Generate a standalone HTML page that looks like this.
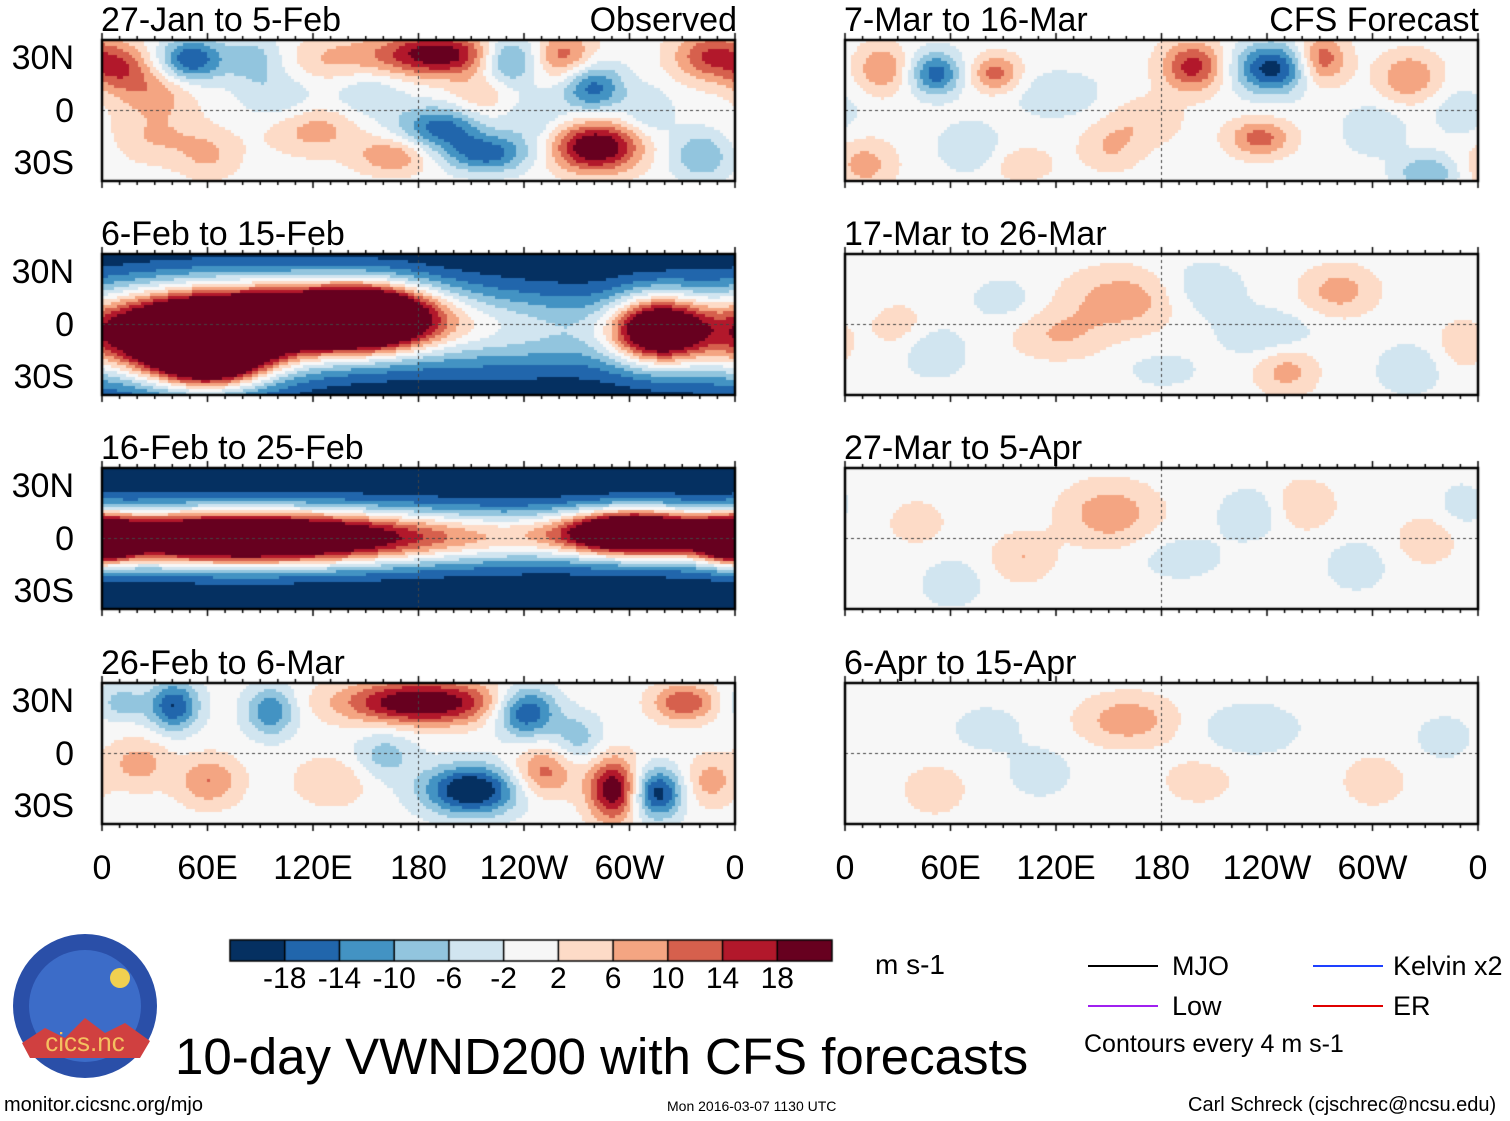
<!DOCTYPE html>
<html><head><meta charset="utf-8">
<style>
body{margin:0;background:#fff;width:1510px;height:1121px;overflow:hidden;position:relative;font-family:"Liberation Sans",sans-serif;color:#000}
.t{position:absolute;white-space:nowrap;line-height:1}
canvas{position:absolute;left:0;top:0}
</style></head><body>
<canvas id="cv" width="1510" height="1121"></canvas>
<div id="labels"></div>
<div class="t" style="left:875px;top:951px;font-size:28px">m s-1</div>
<div class="t" style="left:175px;top:1031px;font-size:51px">10-day VWND200 with CFS forecasts</div>
<div class="t" style="left:4px;top:1095px;font-size:20px">monitor.cicsnc.org/mjo</div>
<div class="t" style="left:667px;top:1099px;font-size:14px">Mon 2016-03-07 1130 UTC</div>
<div class="t" style="left:1188px;top:1095px;font-size:20px">Carl Schreck (cjschrec@ncsu.edu)</div>
<div>
<div style="position:absolute;left:1088px;top:965px;width:70px;height:2px;background:#000"></div>
<div class="t" style="left:1172px;top:953px;font-size:27px">MJO</div>
<div style="position:absolute;left:1088px;top:1005px;width:70px;height:2px;background:#a020f0"></div>
<div class="t" style="left:1172px;top:993px;font-size:27px">Low</div>
<div style="position:absolute;left:1313px;top:965px;width:70px;height:2px;background:#1e40ff"></div>
<div class="t" style="left:1393px;top:953px;font-size:27px">Kelvin x2</div>
<div style="position:absolute;left:1313px;top:1005px;width:70px;height:2px;background:#e00000"></div>
<div class="t" style="left:1393px;top:993px;font-size:27px">ER</div>
<div class="t" style="left:1084px;top:1032px;font-size:25px">Contours every 4 m s-1</div>
</div>
<svg style="position:absolute;left:10px;top:933px" width="150" height="150">
<circle cx="75" cy="73" r="72" fill="#2a4fa8"/>
<circle cx="75" cy="73" r="56" fill="#3c6cc8"/>
<circle cx="110" cy="45" r="10" fill="#f0d050"/>
<path d="M12 110 L35 95 L55 105 L75 85 L95 100 L115 90 L140 108 L130 125 L20 125Z" fill="#d04040"/>
<text x="75" y="118" text-anchor="middle" font-size="26" fill="#f4c060" font-family="Liberation Sans">cics.nc</text>
</svg>
<script>
const levels=[-18,-14,-10,-6,-2,2,6,10,14,18];
const colors=['#053061','#2166ac','#4393c3','#92c5de','#d1e5f0','#f7f7f7','#fddbc7','#f4a582','#d6604d','#b2182b','#67001f'];
const latTicks=['30N','0','30S'];
const lonTicks=['0','60E','120E','180','120W','60W','0'];
const panelTitles=['27-Jan to 5-Feb','6-Feb to 15-Feb','16-Feb to 25-Feb','26-Feb to 6-Mar','7-Mar to 16-Mar','17-Mar to 26-Mar','27-Mar to 5-Apr','6-Apr to 15-Apr'];
const panelBase=[0,-22,-22,0,0,0,0,0];
// blobs: [lon, lat, amplitude m/s, lon width deg, lat width deg]
const blobs0=[[10,25,12,10,8],[50,30,-18,10,7],[30,10,8,12,8],[190,33,22,20,7],[230,30,-16,10,8],[262,32,12,10,8],[278,14,-16,10,8],[345,32,14,12,8],[192,-9,-16,14,7],[218,-24,-16,14,6],[280,-20,24,14,8],[165,-25,10,12,6],[120,-10,8,15,8],[30,-15,6,15,8],[340,-25,-10,10,8],[85,30,-8,10,8],[100,8,-6,12,8],[130,30,6,15,8],[60,-25,6,10,8],[245,-5,-6,10,8],[310,0,-6,8,8],[150,10,-6,12,8],[215,10,6,10,8]];
const blobs1=[[40,-5,44,40,14],[110,5,44,45,12],[150,5,40,20,10],[60,-18,40,18,10],[235,-3,15,45,13],[315,-2,40,15,11]];
const blobs2=[[180,2,22,400,9],[80,1,42,55,9],[300,5,40,22,7],[358,0,35,10,7]];
const blobs3=[[181,30,24,25,7],[240,25,-20,10,8],[40,28,-18,8,8],[95,25,-14,8,8],[290,-20,22,8,10],[209,-20,-24,15,8],[315,-22,-20,8,8],[250,-10,12,10,8],[60,-15,10,10,8],[160,0,-8,10,8],[20,-5,8,10,8],[330,30,14,10,6],[130,-15,6,12,8],[270,10,-8,8,8],[10,30,-8,8,6],[345,-15,8,8,8]];
const blobs4=[[51,22,-16,8,7],[85,22,12,8,6],[197,26,16,10,8],[242,25,-20,12,8],[270,30,14,8,8],[320,20,10,10,8],[235,-15,12,10,6],[300,-10,-6,10,8],[70,-20,-6,10,8],[150,-20,6,10,8],[330,-35,-10,10,6],[10,-30,8,10,8],[20,25,10,8,8],[120,10,-5,15,8],[170,-5,5,12,8],[350,0,-5,10,8],[100,-30,5,10,6]];
const blobs5=[[160,15,9,20,10],[200,20,-6,15,10],[280,20,8,12,8],[120,-5,6,15,8],[50,-15,-6,10,8],[250,-25,8,10,8],[320,-25,-6,10,8],[240,-5,-6,15,8],[30,0,4,10,8],[90,15,-4,12,8],[350,-10,5,8,8],[180,-25,-4,12,6]];
const blobs6=[[150,15,9,15,10],[230,15,-6,10,8],[260,20,6,10,8],[100,-10,6,10,8],[290,-15,-5,10,8],[60,-25,-5,10,8],[330,0,5,10,8],[190,-10,-4,15,8],[40,10,4,10,8],[350,20,-4,8,8]];
const blobs7=[[160,20,9,15,8],[230,15,-6,15,8],[110,-10,-5,10,8],[300,-15,5,10,8],[50,-20,5,10,8],[200,-15,4,12,8],[80,15,-4,12,8],[340,10,-4,10,8]];
const allBlobs=[blobs0,blobs1,blobs2,blobs3,blobs4,blobs5,blobs6,blobs7];

const PW=633,PH=141,colX=[102,845],rowY=[40,254,468,683],WF=1.25;
function xScale(lon,x0){return x0+lon/360*PW;}
function yScale(lat,y0){return y0+PH/2-lat*1.75;}
function colorFor(v){let i=0;while(i<levels.length&&v>levels[i])i++;return colors[i];}
function field(p,lon,lat){let v=panelBase[p];for(const b of allBlobs[p]){let dl=lon-b[0];if(dl>180)dl-=360;if(dl<-180)dl+=360;const wl=b[3]*WF,wt=b[4]*WF;v+=b[2]*Math.exp(-(dl*dl)/(2*wl*wl)-((lat-b[1])*(lat-b[1]))/(2*wt*wt));}return v;}
const ctx=document.getElementById('cv').getContext('2d');
const lab=document.getElementById('labels');
function addText(txt,x,y,size,name,align){const d=document.createElement('div');d.className='t';d.textContent=txt;d.style.fontSize=size+'px';d.style.top=y+'px';if(align==='r'){d.style.right=(1510-x)+'px';}else if(align==='c'){d.style.left=(x-100)+'px';d.style.width='200px';d.style.textAlign='center';}else d.style.left=x+'px';


lab.appendChild(d);}
for(let p=0;p<8;p++){
 const x0=colX[p<4?0:1],y0=rowY[p%4],s=3;
 for(let px=0;px<PW;px+=s)for(let py=0;py<PH;py+=s){
  const lon=px/PW*360,lat=(PH/2-py)/1.75;
  ctx.fillStyle=colorFor(field(p,lon,lat));ctx.fillRect(x0+px,y0+py,s,s);}
 ctx.strokeStyle='#444';ctx.lineWidth=1;ctx.setLineDash([3,3]);
 ctx.beginPath();ctx.moveTo(x0,yScale(0,y0));ctx.lineTo(x0+PW,yScale(0,y0));
 ctx.moveTo(xScale(180,x0),y0);ctx.lineTo(xScale(180,x0),y0+PH);ctx.stroke();ctx.setLineDash([]);
 ctx.strokeStyle='#000';ctx.lineWidth=2.5;ctx.strokeRect(x0,y0,PW,PH);
 ctx.lineWidth=1.5;ctx.beginPath();
 for(let l=0;l<=360;l+=10){const x=xScale(l,x0),h=l%60===0?7:4;ctx.moveTo(x,y0);ctx.lineTo(x,y0-h);ctx.moveTo(x,y0+PH);ctx.lineTo(x,y0+PH+h);}
 ctx.stroke();
 addText(panelTitles[p],x0-1,y0-37,34,'panel-title-'+p);
 if(p<4){[30,0,-30].forEach((lt,i)=>addText(latTicks[i],74,yScale(lt,y0)-17,34,'lat-label','r'));}
}
addText('Observed',737,3,34,'observed-label','r');
addText('CFS Forecast',1479,3,34,'forecast-label','r');
colX.forEach(x0=>lonTicks.forEach((t,i)=>addText(t,xScale(i*60,x0),851,34,'lon-label','c')));
const cbX=230,cbW=602/11;
colors.forEach((c,i)=>{ctx.fillStyle=c;ctx.fillRect(cbX+i*cbW,940,cbW,21);});
ctx.strokeStyle='#000';ctx.lineWidth=1.5;ctx.strokeRect(cbX,940,602,21);
ctx.beginPath();for(let i=1;i<11;i++){ctx.moveTo(cbX+i*cbW,940);ctx.lineTo(cbX+i*cbW,961);}ctx.stroke();
levels.forEach((v,i)=>addText(String(v),cbX+(i+1)*cbW,964,30,'colorbar-tick','c'));
</script>
</body></html>
